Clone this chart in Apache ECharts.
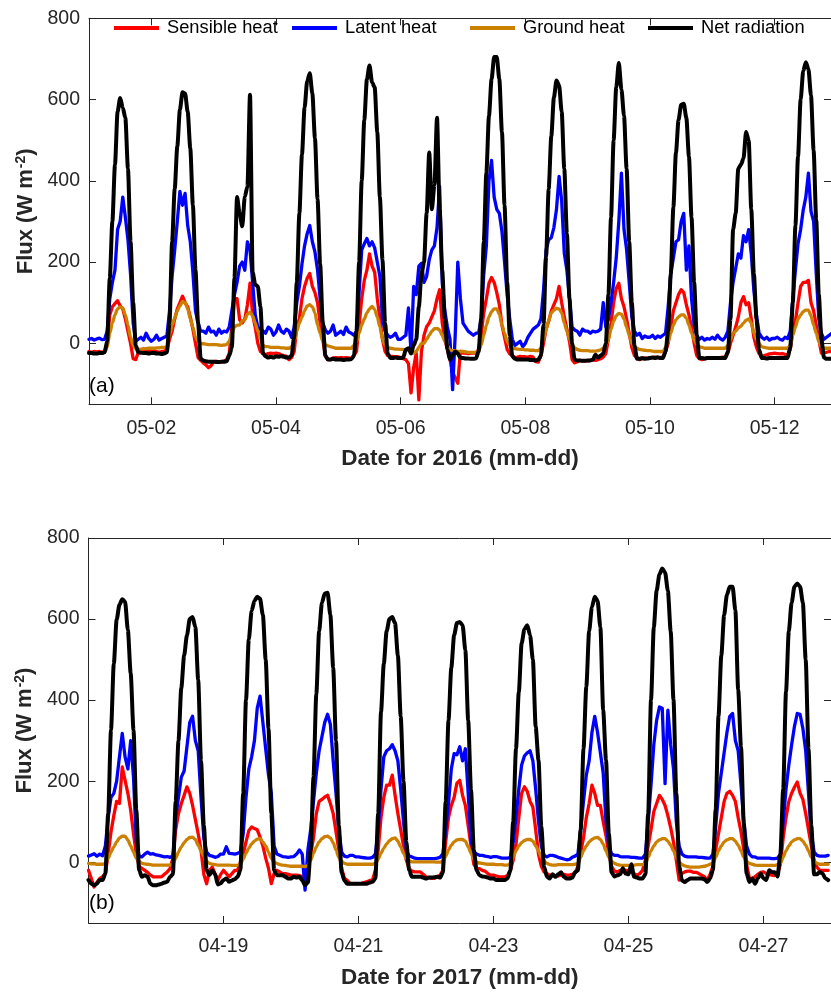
<!DOCTYPE html>
<html>
<head>
<meta charset="utf-8">
<script src="https://cdn.jsdelivr.net/npm/echarts@6/dist/echarts.min.js"></script>
<style>
  html, body { margin: 0; padding: 0; background: #ffffff; }
  #chart { width: 831px; height: 992px; }
</style>
</head>
<body>
<div id="chart"></div>
<script>
// Energy balance components, hourly values (W m-2).
const seriesNames = ['Sensible heat', 'Latent heat', 'Ground heat', 'Net radiation'];

// ---- 2016, starting 05-01 00:00 (one row per day) ----
const sensible2016 = [
  -20,-22,-20,-21,-20,-22,-20,0,70,90,98,105,92,85,60,30,0,-38,-40,-22,-18,-15,-16,-18,
  -20,-18,-20,-22,-20,-19,-15,10,30,60,85,100,116,100,90,65,35,0,-35,-42,-48,-53,-60,-55,
  -45,-44,-46,-45,-44,-40,-25,40,110,110,58,50,60,95,148,70,40,0,-20,-24,-28,-25,-24,-25,
  -24,-25,-28,-30,-32,-40,-35,-20,40,60,110,140,160,172,140,125,100,50,10,-30,-40,-40,-36,-35,
  -36,-35,-36,-35,-36,-37,-30,-20,45,110,155,180,220,190,175,110,60,10,-20,-30,-32,-32,-33,-33,
  -35,-38,-40,-50,-122,-60,-24,-139,-20,20,41,50,65,80,110,132,50,10,-15,-40,-70,-85,-98,-20,
  -24,-24,-25,-24,-24,-24,-15,20,75,110,148,162,150,125,95,45,15,-15,-26,-30,-35,-34,-32,-33,
  -33,-34,-32,-34,-45,-46,-30,0,35,55,80,95,110,140,100,65,35,5,-40,-48,-45,-42,-43,-43,
  -43,-42,-40,-42,-40,-38,-34,-25,10,50,100,135,148,110,90,60,25,-10,-30,-35,-40,-38,-36,-37,
  -36,-35,-34,-35,-35,-33,-20,0,40,80,100,120,132,125,95,70,40,0,-30,-38,-40,-38,-37,-36,
  -36,-37,-36,-35,-34,-33,-24,0,20,40,65,100,115,95,100,60,15,-10,-25,-32,-30,-28,-26,-25,
  -24,-25,-26,-25,-27,-28,-15,30,55,100,140,150,150,155,100,80,45,10,-24,-22,-22,-20,-20,-20
];
const latent2016 = [
  10,12,8,11,13,9,10,30,110,150,180,280,300,360,310,255,170,50,5,10,15,8,25,12,
  5,10,20,8,12,15,18,80,165,230,300,374,340,369,290,250,175,80,50,30,30,25,40,28,
  30,20,35,25,30,28,40,80,120,150,190,200,180,250,230,150,70,40,35,30,25,40,35,20,
  28,45,30,25,35,30,15,40,100,140,195,240,270,290,250,225,180,110,50,33,25,30,45,20,
  25,30,22,40,28,25,20,30,125,230,245,258,240,250,235,200,165,60,30,20,15,18,25,10,
  10,15,20,87,-24,140,120,190,197,150,165,206,230,240,285,386,150,80,40,10,-114,20,200,110,
  50,40,30,25,20,25,25,60,170,240,400,450,360,330,320,275,200,120,60,10,-5,0,5,-8,
  0,15,25,35,40,45,60,130,230,255,260,285,330,411,350,222,180,110,40,33,30,20,35,30,
  30,25,30,28,30,35,100,40,60,100,150,210,300,419,280,230,150,65,30,20,25,12,18,15,
  15,20,12,18,15,20,25,90,170,210,250,255,300,320,180,240,110,45,20,10,15,8,12,10,
  15,10,20,12,8,15,30,100,150,185,220,210,265,250,280,220,130,70,25,15,10,15,8,12,
  12,15,10,8,15,12,30,110,180,245,280,328,360,419,325,300,173,60,25,10,15,20,25,25
];
const ground2016 = [
  -24,-24,-24,-24,-24,-24,-22,-10,25,50,70,85,90,87,70,45,15,-5,-13,-15,-14,-13,-13,-12,
  -12,-12,-11,-11,-10,-10,-10,20,45,62,80,92,103,100,85,60,40,15,5,0,-1,-2,-3,-3,
  -3,-3,-4,-5,-4,-3,5,25,40,45,45,55,58,72,77,68,50,30,12,-5,-8,-8,-10,-10,
  -10,-10,-11,-11,-12,-12,-8,5,30,50,65,80,92,95,90,75,45,25,5,-3,-6,-8,-10,-12,
  -12,-12,-12,-12,-12,-12,-5,5,25,45,60,75,85,91,83,65,40,10,-5,-10,-12,-13,-14,-14,
  -15,-15,-16,-17,-20,-24,-20,-10,0,0,10,20,30,36,37,33,20,5,-5,-16,-18,-18,-20,-20,
  -20,-21,-22,-22,-22,-22,-18,-5,20,45,65,78,85,85,72,45,25,5,-5,-11,-13,-14,-15,-15,
  -16,-16,-17,-17,-18,-18,-12,10,35,55,75,82,86,85,75,50,30,10,-5,-11,-15,-17,-18,-18,
  -18,-19,-19,-19,-18,-16,-12,-5,10,35,55,68,74,72,60,40,20,0,-10,-12,-15,-16,-17,-18,
  -18,-19,-20,-20,-20,-20,-10,5,25,45,58,65,70,70,62,45,25,8,-3,-8,-10,-12,-12,-12,
  -12,-12,-12,-12,-12,-12,-5,10,25,30,38,42,50,57,60,50,25,10,0,-8,-10,-11,-12,-12,
  -12,-12,-12,-12,-12,-12,-5,20,40,60,70,78,82,82,68,45,25,5,-8,-12,-12,-12,-12,-12
];
const netRad2016 = [
  -24,-24,-25,-25,-24,-24,-22,5,160,300,440,570,604,580,555,430,250,100,-5,-22,-23,-24,-24,-25,
  -24,-24,-25,-25,-26,-25,-22,50,250,380,485,575,618,615,570,480,340,180,50,-38,-42,-44,-45,-45,
  -45,-46,-46,-45,-45,-44,-30,-10,160,360,320,288,361,386,612,175,145,140,90,-25,-32,-35,-33,-35,
  -32,-33,-31,-33,-35,-35,-30,15,150,320,465,580,645,665,615,505,355,195,50,-30,-40,-40,-38,-40,
  -40,-40,-41,-40,-40,-39,-30,30,200,400,550,650,684,642,630,520,360,205,50,-25,-36,-36,-35,-36,
  -36,-35,-15,-12,-25,-5,10,90,170,200,320,470,330,390,555,330,180,60,-15,-40,-30,-20,-25,-36,
  -36,-37,-37,-38,-38,-37,-20,60,250,420,560,650,705,705,650,520,340,150,20,-32,-38,-40,-40,-40,
  -40,-40,-41,-41,-42,-40,-30,45,214,380,510,605,647,635,570,430,270,110,0,-40,-42,-42,-43,-43,
  -42,-42,-40,-28,-35,-30,-25,0,120,310,500,630,690,625,560,430,250,100,-5,-38,-38,-36,-38,-37,
  -36,-35,-36,-34,-36,-36,-20,30,170,335,470,550,587,590,555,460,310,150,20,-36,-36,-37,-36,-36,
  -36,-36,-36,-36,-36,-36,-20,60,280,320,430,440,455,520,500,330,170,60,-15,-36,-36,-37,-36,-36,
  -36,-36,-36,-36,-36,-36,-10,100,290,460,600,670,692,675,610,475,305,120,10,-35,-38,-38,-38,-38
];

// ---- 2017, starting 04-17 00:00 (one row per day) ----
const sensible2017 = [
  -20,-40,-61,-50,-40,-36,-28,20,75,115,150,145,235,202,170,128,70,20,-10,-15,-20,-25,-32,-36,
  -36,-36,-36,-30,-24,-16,10,80,120,145,165,186,170,140,105,70,30,-30,-53,-20,-12,-28,-45,-30,
  -20,-28,-36,-28,-20,-20,0,20,50,78,87,83,80,62,40,10,-15,-53,-28,-20,-24,-28,-28,-30,
  -32,-32,-32,-33,-36,-40,-10,20,60,120,150,155,161,165,145,120,75,30,-15,-40,-45,-53,-53,-53,
  -53,-52,-50,-48,-45,-44,-20,30,110,160,190,190,215,165,120,80,40,5,-15,-22,-24,-24,-24,-30,
  -36,-38,-40,-40,-36,-32,-20,50,110,140,160,195,202,165,140,90,40,-5,-15,-16,-20,-22,-28,-32,
  -32,-34,-36,-36,-36,-33,-20,5,45,110,170,186,175,150,136,80,20,-10,-24,-28,-32,-32,-33,-34,
  -32,-30,-32,-32,-30,-27,-10,25,60,110,145,190,170,140,140,100,65,20,-10,-22,-24,-20,-20,-20,
  -20,-24,-28,-32,-28,-20,5,40,80,125,145,165,155,140,115,85,50,5,-44,-28,-24,-22,-22,-25,
  -25,-28,-32,-36,-44,-30,-10,30,70,110,150,170,175,165,150,110,75,30,-5,-40,-40,-36,-30,-25,
  -24,-28,-30,-32,-33,-30,-5,60,110,150,170,185,198,170,155,120,80,40,5,-12,-20,-20,-20,-20
];
const latent2017 = [
  15,18,21,15,20,16,40,110,160,170,200,260,318,260,230,300,210,50,15,13,20,25,20,21,
  18,17,15,13,14,12,15,110,160,210,225,285,345,360,300,275,160,60,25,17,15,12,14,20,
  20,38,22,21,20,22,25,70,160,230,260,300,380,410,345,280,215,170,40,20,17,14,13,12,
  13,14,20,30,20,-69,30,80,150,220,275,310,345,365,340,250,170,80,25,15,13,17,17,13,
  13,12,11,10,10,12,20,80,180,260,275,280,290,275,250,180,100,30,15,13,10,9,9,9,
  9,9,9,9,10,12,21,80,145,230,268,265,285,250,280,170,54,25,20,17,17,15,14,12,
  14,14,12,10,10,10,12,50,110,180,240,262,270,275,250,180,100,40,17,13,17,17,15,12,
  10,8,6,7,12,15,20,80,150,215,250,320,360,320,270,220,100,40,20,17,17,14,13,13,
  13,12,12,11,10,10,20,100,190,290,350,383,380,194,375,290,230,100,40,20,15,13,13,13,
  13,12,12,11,10,10,20,87,170,220,270,320,360,367,300,275,190,100,40,20,13,13,10,10,
  10,10,10,9,9,10,20,100,180,240,290,335,367,365,330,275,170,70,25,17,15,15,15,17
];
const ground2017 = [
  -3,-4,-4,-5,-5,-5,-3,10,25,38,50,60,64,64,55,40,25,10,2,-3,-4,-5,-6,-7,
  -7,-7,-7,-7,-7,-7,-5,10,25,38,48,56,61,62,56,42,28,15,2,-3,-5,-6,-7,-7,
  -7,-7,-7,-8,-8,-8,-5,8,22,35,45,52,57,58,50,40,25,10,0,-3,-6,-7,-8,-9,
  -10,-10,-10,-10,-10,-11,-8,5,22,38,50,58,63,64,60,48,30,12,2,-3,-5,-5,-5,-5,
  -5,-5,-5,-5,-5,-5,-3,8,22,35,45,53,58,60,52,38,22,10,4,1,1,1,1,1,
  1,1,1,1,0,0,2,15,30,42,50,55,56,56,52,38,22,8,0,-2,-3,-4,-5,-5,
  -5,-6,-6,-6,-7,-7,-3,12,28,40,48,54,56,56,52,40,28,12,3,-3,-6,-7,-7,-6,
  -6,-6,-6,-6,-6,-5,-3,12,28,40,50,56,60,61,56,45,28,12,2,-3,-6,-7,-8,-8,
  -8,-8,-7,-6,-6,-6,-3,12,28,40,50,55,58,58,52,42,28,12,0,-6,-9,-11,-12,-12,
  -12,-12,-11,-10,-8,-5,-3,12,28,40,50,55,58,58,52,42,28,12,2,-3,-5,-7,-8,-8,
  -8,-8,-8,-8,-8,-6,-3,12,28,40,50,55,58,58,52,42,28,12,2,-3,-5,-5,-5,-5
];
const netRad2017 = [
  -44,-53,-57,-53,-44,-44,-28,120,326,490,598,635,649,643,573,466,326,128,-20,-36,-32,-36,-53,-57,
  -57,-55,-53,-50,-48,-36,-30,150,300,430,510,560,600,605,580,450,250,90,-20,-32,-20,-30,-55,-52,
  -44,-40,-48,-45,-42,-36,-20,170,400,550,620,645,655,650,610,500,330,120,-20,-32,-32,-32,-36,-40,
  -40,-36,-38,-36,-45,-57,-50,30,210,415,570,640,663,665,610,480,300,90,-25,-45,-53,-53,-53,-53,
  -53,-53,-53,-53,-50,-48,-40,120,370,490,570,600,605,590,510,360,200,50,-20,-36,-36,-36,-36,-38,
  -40,-38,-38,-37,-36,-38,-25,150,350,480,560,590,593,585,523,350,178,30,-20,-32,-35,-36,-38,-40,
  -40,-44,-44,-44,-44,-40,-20,100,280,420,540,575,585,560,500,334,252,87,-12,-36,-40,-30,-36,-30,
  -25,-36,-40,-40,-38,-25,-20,80,280,433,570,630,655,645,580,375,252,70,-25,-35,-32,-30,-15,-28,
  -30,-5,-36,-38,-40,-40,-30,120,400,580,670,710,725,715,670,570,400,170,-10,-45,-49,-44,-40,-40,
  -40,-40,-40,-42,-49,-40,-20,130,360,510,610,660,680,680,622,425,285,95,-28,-49,-40,-53,-40,-28,
  -40,-44,-20,-24,-25,-35,20,180,420,570,640,680,688,680,640,500,280,90,-30,-30,-24,-28,-40,-44
];

// Axis ticks (days since the first midnight) and their labels
const tickDays2016 = [1, 3, 5, 7, 9, 11];
const tickLabels2016 = ['05-02', '05-04', '05-06', '05-08', '05-10', '05-12'];
const tickDays2017 = [2, 4, 6, 8, 10];
const tickLabels2017 = ['04-19', '04-21', '04-23', '04-25', '04-27'];
const fluxTicks = [0, 200, 400, 600, 800];

const colors = ['#ff0000', '#0000ff', '#cc8000', '#000000'];
const widths = [3.3, 3.3, 3.3, 4];
const axisColor = '#262626';
const fontFamily = '"Liberation Sans", Arial, Helvetica, sans-serif';

const hourly = (values) => values.map((v, i) => [i / 24, v]);

function xAxesFor(gridIndex, maxDay, tickDays, tickLabels, title) {
  const lookup = new Map(tickDays.map((d, i) => [d, tickLabels[i]]));
  const common = {
    type: 'value', gridIndex, min: 0, max: maxDay,
    axisLine: { show: true, onZero: false, lineStyle: { color: axisColor, width: 1 } },
    axisTick: { show: true, inside: true, length: 7, customValues: tickDays, lineStyle: { color: axisColor, width: 1 } },
    splitLine: { show: false }
  };
  return [
    Object.assign({}, common, {
      position: 'bottom',
      axisLabel: {
        show: true, customValues: tickDays, margin: 14, fontSize: 19.5, color: axisColor, fontFamily,
        formatter: (v) => lookup.get(Math.round(v)) || ''
      },
      name: title, nameLocation: 'middle', nameGap: 43,
      nameTextStyle: { fontSize: 22.5, fontWeight: 'bold', color: axisColor, fontFamily }
    }),
    Object.assign({}, common, { position: 'top', axisLabel: { show: false } })
  ];
}

function yAxesFor(gridIndex) {
  const common = {
    type: 'value', gridIndex, min: -150, max: 800,
    axisLine: { show: true, onZero: false, lineStyle: { color: axisColor, width: 1 } },
    axisTick: { show: true, inside: true, length: 7, customValues: fluxTicks, lineStyle: { color: axisColor, width: 1 } },
    splitLine: { show: false }
  };
  return [
    Object.assign({}, common, {
      position: 'left',
      axisLabel: { show: true, customValues: fluxTicks, margin: 9, fontSize: 19.5, color: axisColor, fontFamily },
      name: 'Flux (W m{sup|-2})', nameLocation: 'middle', nameGap: 48, nameRotate: 90,
      nameTextStyle: {
        fontSize: 22, fontWeight: 'bold', color: axisColor, fontFamily,
        rich: { sup: { fontSize: 14, fontWeight: 'bold', color: axisColor, fontFamily, verticalAlign: 'top', padding: [0, 0, 9, 1] } }
      }
    }),
    Object.assign({}, common, { position: 'right', axisLabel: { show: false } })
  ];
}

const panels = [
  { values: [sensible2016, latent2016, ground2016, netRad2016] },
  { values: [sensible2017, latent2017, ground2017, netRad2017] }
];

const series = [];
panels.forEach((panel, p) => {
  panel.values.forEach((vals, k) => {
    series.push({
      name: seriesNames[k], type: 'line',
      xAxisIndex: 2 * p, yAxisIndex: 2 * p,
      data: hourly(vals),
      showSymbol: false, symbol: 'none', clip: true,
      smooth: (k === 2 || k === 3) ? 0.25 : false,
      smoothMonotone: 'x',
      lineStyle: { color: colors[k], width: widths[k], join: 'round', cap: 'round' },
      itemStyle: { color: colors[k] },
      z: 2 + k,
      animation: false
    });
  });
});

// One legend block per entry, laid out in four equal-width columns
const legendColumnLeft = [114, 292, 470, 648];
const legends = seriesNames.map((name, k) => ({
  data: [name],
  left: legendColumnLeft[k], top: 19, padding: 0,
  icon: 'rect', itemWidth: 45, itemHeight: 4,
  textStyle: { fontSize: 18.3, color: '#000', fontFamily, padding: [0, 0, 0, 3] }
}));

const chart = echarts.init(document.getElementById('chart'), null, { renderer: 'canvas' });
chart.setOption({
  animation: false,
  backgroundColor: '#ffffff',
  textStyle: { fontFamily },
  grid: [
    { left: 89, top: 18.3, width: 744, height: 386, show: false },
    { left: 88.5, top: 538, width: 743.5, height: 385, show: false }
  ],
  title: [
    { text: '(a)', left: 89, top: 376, padding: 0, textStyle: { fontSize: 21, fontWeight: 'normal', color: '#000', fontFamily } },
    { text: '(b)', left: 89, top: 893, padding: 0, textStyle: { fontSize: 21, fontWeight: 'normal', color: '#000', fontFamily } }
  ],
  legend: legends,
  xAxis: [
    ...xAxesFor(0, 11.904, tickDays2016, tickLabels2016, 'Date for 2016 (mm-dd)'),
    ...xAxesFor(1, 11.0, tickDays2017, tickLabels2017, 'Date for 2017 (mm-dd)')
  ],
  yAxis: [...yAxesFor(0), ...yAxesFor(1)],
  series
});
</script>
</body>
</html>
